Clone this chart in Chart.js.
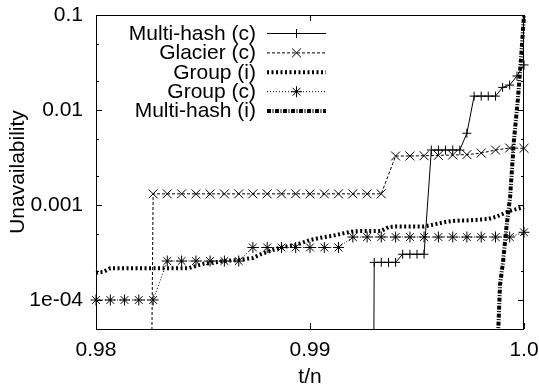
<!DOCTYPE html>
<html>
<head>
<meta charset="utf-8">
<script src="https://cdn.jsdelivr.net/npm/chart.js@4.4.1/dist/chart.umd.min.js"></script>
<style>
    html, body { margin: 0; padding: 0; background: #fff; }
    #wrap { width: 539px; height: 392px; }
</style>
</head>
<body>
<div id="wrap"><canvas id="chart" width="539" height="392"></canvas></div>
<script>
    "use strict";

    // t/n positions, coarse grid (Glacier, Group (c)) and fine grid (Group (i), Multi-hash (c))
    var tCoarse = [0.98, 0.98067, 0.98133, 0.982, 0.98267, 0.98333, 0.984, 0.98467, 0.98533, 0.986,
        0.98667, 0.98733, 0.988, 0.98867, 0.98933, 0.99, 0.99067, 0.99133, 0.992, 0.99267,
        0.99333, 0.994, 0.99467, 0.99533, 0.996, 0.99667, 0.99733, 0.998, 0.99867, 0.99933, 1.0];

    var tFine = [0.98, 0.98033, 0.98067, 0.981, 0.98133, 0.98167, 0.982, 0.98233, 0.98267, 0.983,
        0.98333, 0.98367, 0.984, 0.98433, 0.98467, 0.985, 0.98533, 0.98567, 0.986, 0.98633,
        0.98667, 0.987, 0.98733, 0.98767, 0.988, 0.98833, 0.98867, 0.989, 0.98933, 0.98967,
        0.99, 0.99033, 0.99067, 0.991, 0.99133, 0.99167, 0.992, 0.99233, 0.99267, 0.993,
        0.99333, 0.99367, 0.994, 0.99433, 0.99467, 0.995, 0.99533, 0.99567, 0.996, 0.99633,
        0.99667, 0.997, 0.99733, 0.99767, 0.998, 0.99833, 0.99867, 0.999, 0.99933, 0.99967, 1.0];

    var multiHashC = [null, null, null, null, null, null, null, null, null, null,
        null, null, null, null, null, null, null, null, null, null,
        null, null, null, null, null, null, null, null, null, null,
        null, null, null, null, null, null, null, null, 1e-20, 2.49e-4,
        2.49e-4, 2.49e-4, 2.49e-4, 3.03e-4, 3.03e-4, 3.03e-4, 3.03e-4, 3.79e-3, 3.79e-3, 3.79e-3,
        3.79e-3, 3.79e-3, 5.69e-3, 1.40e-2, 1.40e-2, 1.40e-2, 1.40e-2, 1.73e-2, 1.83e-2, 2.28e-2, 2.98e-2];

    var glacierC = [null, null, null, 1e-20, 1.31e-3, 1.31e-3, 1.31e-3, 1.31e-3, 1.31e-3, 1.31e-3,
        1.31e-3, 1.31e-3, 1.31e-3, 1.31e-3, 1.31e-3, 1.31e-3, 1.31e-3, 1.31e-3, 1.31e-3, 1.31e-3,
        1.31e-3, 3.28e-3, 3.28e-3, 3.30e-3, 3.33e-3, 3.36e-3, 3.39e-3, 3.52e-3, 3.79e-3, 3.98e-3, 3.95e-3];

    var groupI = [1.94e-4, 1.97e-4, 2.16e-4, 2.16e-4, 2.16e-4, 2.16e-4, 2.16e-4, 2.16e-4, 2.16e-4, 2.16e-4,
        2.16e-4, 2.16e-4, 2.16e-4, 2.16e-4, 2.28e-4, 2.39e-4, 2.45e-4, 2.51e-4, 2.57e-4, 2.61e-4,
        2.64e-4, 2.70e-4, 2.77e-4, 3.01e-4, 3.20e-4, 3.40e-4, 3.57e-4, 3.70e-4, 3.79e-4, 4.03e-4,
        4.28e-4, 4.44e-4, 4.60e-4, 4.72e-4, 4.89e-4, 5.10e-4, 5.26e-4, 5.32e-4, 5.32e-4, 5.32e-4,
        5.32e-4, 5.86e-4, 5.94e-4, 5.94e-4, 5.94e-4, 5.94e-4, 5.94e-4, 6.16e-4, 6.38e-4, 6.62e-4,
        6.79e-4, 6.87e-4, 6.87e-4, 6.95e-4, 7.04e-4, 7.12e-4, 7.48e-4, 8.04e-4, 8.65e-4, 9.08e-4, 9.53e-4];

    var groupC = [1.0e-4, 1.0e-4, 1.0e-4, 1.0e-4, 1.0e-4, 2.57e-4, 2.57e-4, 2.57e-4, 2.57e-4, 2.57e-4,
        2.57e-4, 3.57e-4, 3.57e-4, 3.57e-4, 3.57e-4, 3.57e-4, 3.57e-4, 3.57e-4, 4.6e-4, 4.6e-4,
        4.6e-4, 4.6e-4, 4.6e-4, 4.6e-4, 4.6e-4, 4.6e-4, 4.6e-4, 4.6e-4, 4.6e-4, 4.6e-4, 5.16e-4];

    // Multi-hash (i) has its own x positions
    var tMultiHashI = [0.99876, 0.99888, 0.99902, 0.99916, 0.99935, 0.99953, 0.99972, 0.99988, 1.0];
    var multiHashI = [3e-5, 1.44e-4, 2.5e-4, 5.3e-4, 1.21e-3, 4.8e-3, 1.34e-2, 4.0e-2, 0.1];

    var seriesNames = ['Multi-hash (c)', 'Glacier (c)', 'Group (i)', 'Group (c)', 'Multi-hash (i)'];

    var xTicks = [0.98, 0.99, 1.0];
    var xTickLabels = ['0.98', '0.99', '1.0'];
    var yTicks = [1e-4, 1e-3, 1e-2, 1e-1];
    var yTickLabels = ['1e-04', '0.001', '0.01', '0.1'];
    var yMinorTicks = [5e-5, 2e-4, 5e-4, 2e-3, 5e-3, 2e-2, 5e-2];

    function pts(xs, ys) {
        return xs.map(function (x, i) { return { x: x, y: ys[i] }; });
    }

    var font = { family: "'Liberation Sans', Arial, sans-serif", size: 21 };
    var clipBox = { left: 8, right: 8, top: 8, bottom: 0 };

    // Frame, inward tics and gnuplot-like key
    var gnuFrame = {
        id: 'gnuFrame',
        afterDraw: function (chart) {
            var ctx = chart.ctx;
            var a = chart.chartArea;
            var xs = chart.scales.x;
            var ys = chart.scales.y;
            ctx.save();
            ctx.strokeStyle = '#000';
            ctx.lineWidth = 1;
            ctx.strokeRect(a.left + 0.5, a.top + 0.5, a.right - a.left - 1, a.bottom - a.top);

            ctx.beginPath();
            xTicks.forEach(function (v) {
                var px = Math.round(xs.getPixelForValue(v)) + 0.5;
                ctx.moveTo(px, a.bottom); ctx.lineTo(px, a.bottom - 6);
                ctx.moveTo(px, a.top); ctx.lineTo(px, a.top + 6);
            });
            yTicks.forEach(function (v) {
                var py = Math.round(ys.getPixelForValue(v)) + 0.5;
                ctx.moveTo(a.left, py); ctx.lineTo(a.left + 6, py);
                ctx.moveTo(a.right, py); ctx.lineTo(a.right - 6, py);
            });
            yMinorTicks.forEach(function (v) {
                var py = Math.round(ys.getPixelForValue(v)) + 0.5;
                ctx.moveTo(a.left, py); ctx.lineTo(a.left + 3, py);
                ctx.moveTo(a.right, py); ctx.lineTo(a.right - 3, py);
            });
            ctx.stroke();

            // key
            ctx.font = font.size + 'px ' + font.family;
            ctx.textAlign = 'right';
            ctx.textBaseline = 'middle';
            chart.data.datasets.forEach(function (ds, i) {
                var y = 33 + i * 19.4;
                ctx.fillStyle = '#000';
                ctx.fillText(ds.label, 256, y + 1);
                ctx.save();
                ctx.strokeStyle = ds.borderColor;
                ctx.lineWidth = ds.borderWidth;
                ctx.setLineDash(ds.borderDash || []);
                ctx.beginPath();
                ctx.moveTo(267, y + 0.5);
                ctx.lineTo(326, y + 0.5);
                ctx.stroke();
                ctx.restore();
                if (ds.pointRadius > 0) {
                    ctx.strokeStyle = '#000';
                    ctx.lineWidth = 1;
                    Chart.helpers.drawPoint(ctx, {
                        pointStyle: ds.pointStyle, radius: ds.pointRadius, rotation: 0, borderWidth: 1
                    }, 296.5, y + 0.5);
                }
            });
            ctx.restore();
        }
    };

    var ctx = document.getElementById('chart').getContext('2d');
    var myChart = new Chart(ctx, {
        type: 'line',
        data: {
            datasets: [{
                label: seriesNames[0],
                data: pts(tFine, multiHashC),
                borderColor: '#000',
                borderWidth: 1,
                pointStyle: 'cross',
                pointRadius: 4.5,
                pointBorderColor: '#000',
                pointBorderWidth: 1,
                clip: clipBox
            }, {
                label: seriesNames[1],
                data: pts(tCoarse, glacierC),
                borderColor: '#000',
                borderWidth: 1,
                borderDash: [3, 2],
                pointStyle: 'crossRot',
                pointRadius: 6.3,
                pointBorderColor: '#000',
                pointBorderWidth: 1,
                clip: clipBox
            }, {
                label: seriesNames[2],
                data: pts(tFine, groupI),
                borderColor: '#000',
                borderWidth: 4,
                borderDash: [2, 2.5],
                pointRadius: 0,
                clip: clipBox
            }, {
                label: seriesNames[3],
                data: pts(tCoarse, groupC),
                borderColor: '#000',
                borderWidth: 1,
                borderDash: [1, 2],
                pointStyle: 'star',
                pointRadius: 5.5,
                pointBorderColor: '#000',
                pointBorderWidth: 1,
                clip: clipBox
            }, {
                label: seriesNames[4],
                data: pts(tMultiHashI, multiHashI),
                borderColor: '#000',
                borderWidth: 4,
                borderDash: [4, 1.5, 1, 1.5],
                pointRadius: 0,
                clip: clipBox
            }]
        },
        options: {
            responsive: false,
            animation: false,
            devicePixelRatio: 1,
            spanGaps: false,
            layout: { padding: { top: 15, right: 15, left: 0, bottom: 0 } },
            plugins: {
                legend: { display: false },
                tooltip: { enabled: false }
            },
            scales: {
                x: {
                    type: 'linear',
                    min: 0.98,
                    max: 1.0,
                    afterBuildTicks: function (s) {
                        s.ticks = xTicks.map(function (v) { return { value: v }; });
                    },
                    afterFit: function (s) {
                        s.height = 63;
                        s.paddingLeft = 0;
                        s.paddingRight = 0;
                    },
                    ticks: {
                        callback: function (v, i) { return xTickLabels[i]; },
                        font: font,
                        color: '#000',
                        padding: 9,
                        maxRotation: 0,
                        autoSkip: false
                    },
                    grid: { display: false, drawTicks: false },
                    border: { display: false },
                    title: { display: true, text: 't/n', font: font, color: '#000', padding: { top: 0, bottom: 2 } }
                },
                y: {
                    type: 'logarithmic',
                    min: 4.95e-5,
                    max: 0.1,
                    afterBuildTicks: function (s) {
                        s.ticks = yTicks.map(function (v) { return { value: v }; });
                    },
                    afterFit: function (s) {
                        s.width = 96;
                        s.paddingTop = 0;
                        s.paddingBottom = 0;
                    },
                    ticks: {
                        callback: function (v, i) { return yTickLabels[i]; },
                        font: font,
                        color: '#000',
                        padding: 13,
                        autoSkip: false
                    },
                    grid: { display: false, drawTicks: false },
                    border: { display: false },
                    title: { display: true, text: 'Unavailability', font: font, color: '#000', padding: { top: 6, bottom: 0 } }
                }
            }
        },
        plugins: [gnuFrame]
    });
</script>
</body>
</html>
